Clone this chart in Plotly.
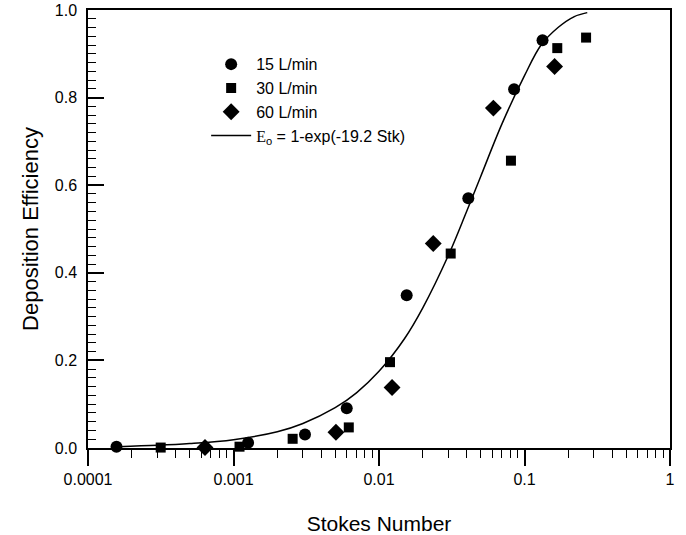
import plotly.graph_objects as go

# Data
stk_15 = [0.000157, 0.00126, 0.0031, 0.0060, 0.0155, 0.0411, 0.0848, 0.133]
eff_15 = [0.003, 0.012, 0.031, 0.091, 0.349, 0.570, 0.819, 0.931]

stk_30 = [0.000316, 0.00110, 0.00255, 0.0062, 0.0119, 0.0311, 0.0807, 0.168, 0.265]
eff_30 = [0.001, 0.003, 0.021, 0.047, 0.196, 0.444, 0.656, 0.913, 0.937]

stk_60 = [0.000637, 0.00506, 0.0123, 0.0236, 0.0611, 0.161]
eff_60 = [0.001, 0.036, 0.138, 0.467, 0.776, 0.871]

# Fitted curve, points
curve_stk = [0.00016, 0.0003, 0.0005, 0.001, 0.002, 0.003, 0.005, 0.007, 0.01,
             0.015, 0.02, 0.03, 0.04, 0.05, 0.07, 0.1, 0.13, 0.17, 0.22, 0.27]
curve_eff = [0.003, 0.006, 0.010, 0.019, 0.037, 0.056, 0.092, 0.126, 0.175,
             0.25, 0.32, 0.44, 0.54, 0.62, 0.74, 0.85, 0.92, 0.96, 0.985, 0.994]

x_tickvals = [0.0001, 0.001, 0.01, 0.1, 1]
x_ticktext = ["0.0001", "0.001", "0.01", "0.1", "1"]
x_minor = [k * 10.0 ** d for d in range(-4, 0) for k in range(2, 10)]

FONT = "Arial, Liberation Sans, sans-serif"

fig = go.Figure()
fig.add_trace(go.Scatter(x=stk_15, y=eff_15, mode="markers", name="15 L/min",
                         marker=dict(symbol="circle", size=12, color="black"),
                         cliponaxis=False))
fig.add_trace(go.Scatter(x=stk_30, y=eff_30, mode="markers", name="30 L/min",
                         marker=dict(symbol="square", size=10, color="black"),
                         cliponaxis=False))
fig.add_trace(go.Scatter(x=stk_60, y=eff_60, mode="markers", name="60 L/min",
                         marker=dict(symbol="diamond", size=13, color="black"),
                         cliponaxis=False))
fig.add_trace(go.Scatter(x=curve_stk, y=curve_eff, mode="lines",
                         name="<span style='font-family:Liberation Serif, Times New Roman, serif'>E</span><sub>o</sub> = 1-exp(-19.2 Stk)",
                         line=dict(color="black", width=1.5, shape="spline")))

fig.update_layout(
    width=686, height=535,
    margin=dict(l=88, r=16, t=10, b=87),
    paper_bgcolor="white", plot_bgcolor="white",
    font=dict(family=FONT, color="black", size=16),
    showlegend=True,
    legend=dict(x=0.203, y=0.915, xanchor="left", yanchor="top",
                bgcolor="rgba(0,0,0,0)", font=dict(size=16),
                itemwidth=40, tracegroupgap=0),
)
fig.update_xaxes(
    type="log", range=[-4, 0], automargin=False,
    tickmode="array", tickvals=x_tickvals, ticktext=x_ticktext,
    ticks="outside", ticklen=16, tickwidth=1.5, tickcolor="black",
    minor=dict(tickmode="array", tickvals=x_minor, ticks="outside", ticklen=8,
               tickcolor="black", tickwidth=1, showgrid=False),
    showline=True, linecolor="black", linewidth=1.5, mirror=True,
    showgrid=False, zeroline=False,
    tickfont=dict(size=16), ticklabeloverflow="allow",
    title=dict(text="Stokes Number", font=dict(size=21), standoff=29),
)
fig.update_yaxes(
    range=[0, 1], dtick=0.2, tickformat=".1f", automargin=False,
    ticks="inside", ticklen=16, tickwidth=1.5, tickcolor="black",
    minor=dict(dtick=0.02, ticks="inside", ticklen=8, tickcolor="black",
               tickwidth=1, showgrid=False),
    showline=True, linecolor="black", linewidth=1.5, mirror=True,
    showgrid=False, zeroline=False,
    tickfont=dict(size=16), ticklabelstandoff=6, ticklabeloverflow="allow",
    title=dict(text="Deposition Efficiency", font=dict(size=22), standoff=10),
)

# remove the browser's default 8px body margin so the figure fills the window
fig.write_html("out.html",
               config={"displayModeBar": False},
               post_script="document.body.style.margin='0';document.body.style.overflow='hidden';")
